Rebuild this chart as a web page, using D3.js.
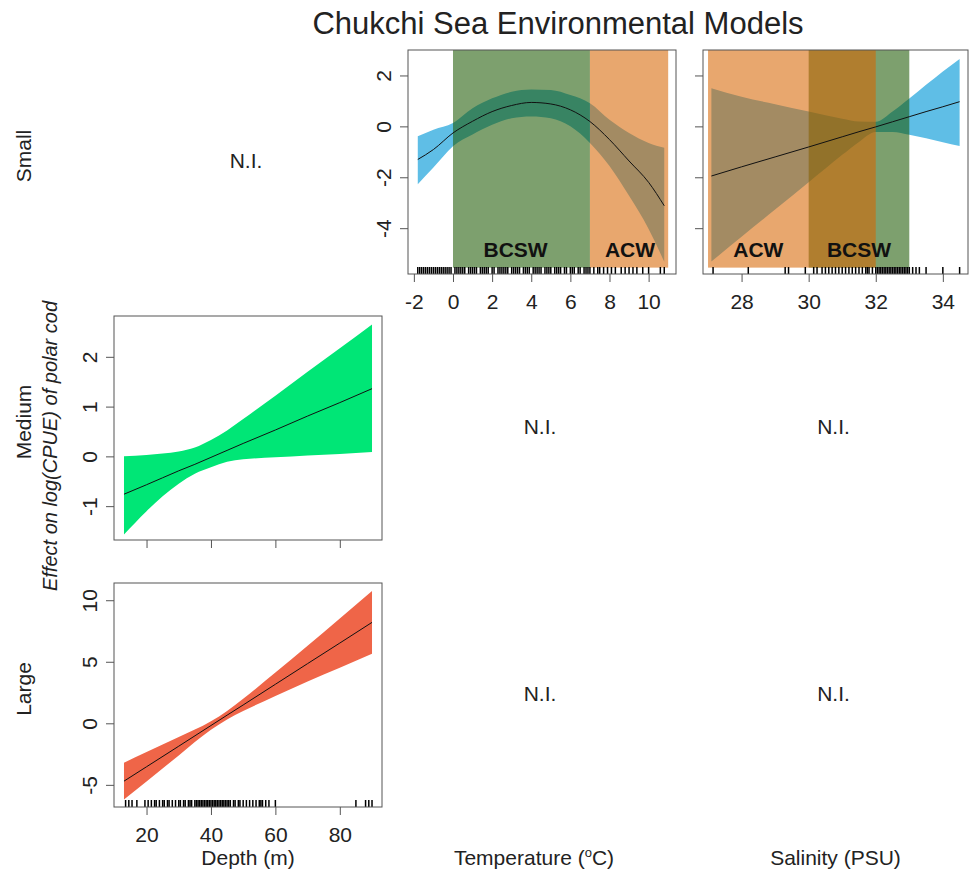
<!DOCTYPE html>
<html>
<head>
<meta charset="utf-8">
<script src="https://cdn.jsdelivr.net/npm/d3@7"></script>
<style>
  body { margin: 0; background: #fff; }
  svg { font-family: 'Liberation Sans', Arial, Helvetica, sans-serif; }
  .tick line { stroke: #555; }
  .tick text { fill: #222; font-size: 21px; }
</style>
</head>
<body>
<div id="chart"></div>
<script>
// ---- data ----

// small polar cod ~ temperature
const tempX   = [-1.8, -1, 0, 1, 2, 3, 4, 5, 6, 7, 8, 9, 10, 10.8];
const tempFit = [-1.30, -0.91, -0.26, 0.20, 0.58, 0.82, 0.94, 0.88, 0.65, 0.19, -0.52, -1.36, -2.20, -3.12];
const tempHi  = [-0.39, -0.13, 0.13, 0.71, 1.10, 1.36, 1.45, 1.43, 1.23, 0.91, 0.26, -0.26, -0.65, -0.84];
const tempLo  = [-2.27, -1.62, -0.78, -0.32, 0.06, 0.32, 0.39, 0.32, 0.00, -0.65, -1.56, -2.73, -4.03, -5.32];
const tempRug = [-1.8, -1.7, -1.6, -1.5, -1.4, -1.3, -1.2, -1.1, -1.0, -0.9, -0.8, -0.7, -0.6, -0.5, -0.4,
  -0.3, -0.2, -0.1, 0.1, 0.2, 0.3, 0.4, 0.5, 0.6, 0.8, 0.9, 1.0, 1.1, 1.2, 1.4, 1.5, 1.6, 1.7, 1.8, 2.0,
  2.1, 2.3, 2.4, 2.5, 2.6, 2.7, 2.8, 3.0, 3.1, 3.2, 3.3, 3.4, 3.6, 3.7, 3.8, 3.9, 4.1, 4.2, 4.3, 4.4, 4.5,
  4.7, 4.8, 4.9, 5.0, 5.2, 5.3, 5.4, 5.5, 5.7, 5.8, 6.0, 6.1, 6.2, 6.4, 6.5, 6.7, 6.8, 6.9, 7.0, 7.2, 7.4,
  7.5, 7.7, 7.9, 8.1, 8.3, 8.6, 8.8, 9.0, 9.2, 9.4, 9.7, 10.0, 10.6, 10.8];

// small polar cod ~ salinity
const salX   = [27.1, 28, 29, 30, 31, 31.5, 32, 32.5, 33, 33.5, 34, 34.5];
const salFit = [-1.95, -1.59, -1.20, -0.81, -0.41, -0.21, -0.02, 0.18, 0.38, 0.58, 0.77, 0.97];
const salHi  = [1.50, 1.16, 0.87, 0.58, 0.30, 0.19, 0.18, 0.58, 1.09, 1.63, 2.16, 2.65];
const salLo  = [-5.31, -4.34, -3.27, -2.20, -1.12, -0.61, -0.22, -0.22, -0.33, -0.47, -0.62, -0.77];
const salRug = [27.15, 28.2, 29.3, 29.4, 29.9, 30.15, 30.25, 30.4, 30.5, 30.6, 30.7, 30.8, 30.9, 31.0, 31.1,
  31.2, 31.3, 31.4, 31.5, 31.6, 31.7, 31.75, 31.8, 31.9, 32.0, 32.05, 32.1, 32.15, 32.2, 32.25, 32.3, 32.35,
  32.4, 32.45, 32.5, 32.55, 32.6, 32.65, 32.7, 32.75, 32.8, 32.85, 32.9, 32.95, 33.0, 33.1, 33.2, 33.3,
  33.5, 34.0, 34.5];

// medium polar cod ~ depth
const medX   = [13, 20, 25, 30, 35, 40, 45, 50, 60, 70, 80, 90];
const medFit = [-0.76, -0.57, -0.43, -0.29, -0.16, -0.02, 0.12, 0.26, 0.53, 0.81, 1.08, 1.36];
const medHi  = [0.00, 0.03, 0.06, 0.10, 0.18, 0.33, 0.52, 0.75, 1.22, 1.70, 2.17, 2.65];
const medLo  = [-1.57, -1.10, -0.80, -0.55, -0.35, -0.22, -0.11, -0.06, -0.02, 0.02, 0.05, 0.09];

// large polar cod ~ depth
const largeX   = [13, 20, 30, 40, 45, 50, 60, 70, 80, 90];
const largeFit = [-4.70, -3.53, -1.86, -0.18, 0.66, 1.49, 3.17, 4.85, 6.52, 8.20];
const largeHi  = [-3.20, -2.33, -1.11, 0.17, 1.01, 1.99, 4.12, 6.30, 8.52, 10.75];
const largeLo  = [-6.20, -4.73, -2.61, -0.53, 0.31, 0.99, 2.22, 3.40, 4.52, 5.65];
const depthRug = [13.5, 14.5, 15.5, 17, 19.5, 20.5, 21.5, 22.5, 23, 24, 25, 25.5, 26.5, 27, 28, 29, 30, 30.5,
  31.5, 32, 33, 33.5, 34, 35, 35.5, 36, 36.5, 37, 37.5, 38, 38.5, 39, 39.5, 40, 40.5, 41, 41.5, 42, 42.5,
  43, 43.5, 44, 44.5, 45, 45.5, 46, 47, 47.5, 48.5, 49, 50, 51, 52, 53, 54, 55, 55.5, 56, 57, 58, 60,
  85, 88, 89, 90];

// water mass zones (label, from, to, label x)
const tempZones = [['BCSW', 0, 7, 3.2], ['ACW', 7, 11, 9.05]];
const salZones  = [['BCSW', 30, 33, 31.5], ['ACW', 27, 32, 28.5]];
const zoneBottom = -5.55;

// tick values
const tempTicks  = [-2, 0, 2, 4, 6, 8, 10];
const salTicks   = [28, 30, 32, 34];
const depthTicks = [20, 40, 60, 80];
const smallYTicks  = [-4, -2, 0, 2];
const mediumYTicks = [-1, 0, 1, 2];
const largeYTicks  = [-5, 0, 5, 10];

const rowNames = ['Small', 'Medium', 'Large'];
const colNames = ['Depth (m)', 'Temperature', 'Salinity (PSU)'];

// ---- layout ----
const width = 971, height = 873;
const colLeft = [114, 408, 703];
const colWidth = [268, 268, 265];
const rowTop = [50, 316, 583];
const rowHeight = 224;

const zoneColor = {BCSW: '#1A5800', ACW: '#D76400'};
const fmt = d => String(d);   // R style: plain hyphen, no decimals

const svg = d3.select('#chart').append('svg')
  .attr('width', width)
  .attr('height', height);

function panel(o) {
  const x0 = colLeft[o.col], y0 = rowTop[o.row], w = colWidth[o.col], h = rowHeight;
  const x = d3.scaleLinear().domain(o.xDomain).range([0, w]);
  const y = d3.scaleLinear().domain(o.yDomain).range([h, 0]);

  const g = svg.append('g').attr('transform', `translate(${x0},${y0})`);
  const clipId = `clip-${o.row}-${o.col}`;
  g.append('clipPath').attr('id', clipId)
    .append('rect').attr('width', w).attr('height', h);

  const plot = g.append('g').attr('clip-path', `url(#${clipId})`);
  const rows = o.xs.map((d, i) => ({x: d, fit: o.fit[i], lo: o.lo[i], hi: o.hi[i]}));

  // confidence band
  plot.append('path')
    .datum(rows)
    .attr('fill', o.color)
    .attr('d', d3.area().curve(d3.curveMonotoneX)
      .x(d => x(d.x)).y0(d => y(d.lo)).y1(d => y(d.hi)));

  // water mass rectangles drawn on top of the band
  (o.zones || []).forEach(z => {
    plot.append('rect')
      .attr('x', x(z[1]))
      .attr('width', x(z[2]) - x(z[1]))
      .attr('y', y(o.yDomain[1]))
      .attr('height', y(zoneBottom) - y(o.yDomain[1]))
      .attr('fill', zoneColor[z[0]])
      .attr('fill-opacity', 0.57);
  });

  // fitted smooth
  plot.append('path')
    .datum(rows)
    .attr('fill', 'none')
    .attr('stroke', '#111')
    .attr('stroke-width', 1)
    .attr('d', d3.line().curve(d3.curveMonotoneX).x(d => x(d.x)).y(d => y(d.fit)));

  (o.zones || []).forEach(z => {
    g.append('text')
      .attr('x', x(z[3]))
      .attr('y', h - 17)
      .attr('text-anchor', 'middle')
      .attr('font-weight', 'bold')
      .attr('font-size', 21)
      .attr('fill', '#111')
      .text(z[0]);
  });

  // rug
  if (o.rug) {
    g.append('g').selectAll('line')
      .data(o.rug)
      .join('line')
      .attr('x1', d => x(d)).attr('x2', d => x(d))
      .attr('y1', h).attr('y2', h - 7)
      .attr('stroke', '#000')
      .attr('stroke-width', 1.5);
  }

  // axes
  const xAxis = d3.axisBottom(x).tickValues(o.xTicks).tickSize(8).tickPadding(8)
    .tickFormat(o.xLabels ? fmt : '');
  const gx = g.append('g').attr('transform', `translate(0,${h})`).call(xAxis);
  gx.select('.domain').remove();
  gx.selectAll('.tick text').attr('dy', '0.9em');

  const yAxis = d3.axisLeft(y).tickValues(o.yTicks).tickSize(8)
    .tickFormat(o.yLabels ? fmt : '');
  const gy = g.append('g').call(yAxis);
  gy.select('.domain').remove();
  gy.selectAll('.tick text')
    .attr('transform', 'rotate(-90)')
    .attr('x', 0).attr('y', -17).attr('dy', 0)
    .attr('text-anchor', 'middle');

  // box
  g.append('rect')
    .attr('width', w).attr('height', h)
    .attr('fill', 'none')
    .attr('stroke', '#555')
    .attr('stroke-width', 1);
}

panel({row: 0, col: 1, xDomain: [-2.3, 11.4], yDomain: [-5.8, 3.0],
  xs: tempX, fit: tempFit, lo: tempLo, hi: tempHi, color: '#5FBEE6',
  zones: tempZones, rug: tempRug, xTicks: tempTicks, yTicks: smallYTicks, xLabels: true, yLabels: true});

panel({row: 0, col: 2, xDomain: [26.85, 34.75], yDomain: [-5.8, 3.0],
  xs: salX, fit: salFit, lo: salLo, hi: salHi, color: '#5FBEE6',
  zones: salZones, rug: salRug, xTicks: salTicks, yTicks: smallYTicks, xLabels: true, yLabels: false});

panel({row: 1, col: 0, xDomain: [9.9, 93.1], yDomain: [-1.68, 2.82],
  xs: medX, fit: medFit, lo: medLo, hi: medHi, color: '#00E676',
  xTicks: depthTicks, yTicks: mediumYTicks, xLabels: false, yLabels: true});

panel({row: 2, col: 0, xDomain: [9.9, 93.1], yDomain: [-6.8, 11.4],
  xs: largeX, fit: largeFit, lo: largeLo, hi: largeHi, color: '#EF6548',
  rug: depthRug, xTicks: depthTicks, yTicks: largeYTicks, xLabels: true, yLabels: true});

// N.I. (not included) cells
const empty = [[0, 0], [1, 1], [1, 2], [2, 1], [2, 2]];
svg.append('g').selectAll('text')
  .data(empty)
  .join('text')
  .attr('x', d => colLeft[d[1]] + colWidth[d[1]] / 2 - 2)
  .attr('y', d => rowTop[d[0]] + rowHeight / 2 + 6)
  .attr('text-anchor', 'middle')
  .attr('font-size', 21)
  .attr('fill', '#222')
  .text('N.I.');

// row labels
svg.append('g').selectAll('text')
  .data(rowNames)
  .join('text')
  .attr('transform', (d, i) => `translate(31,${rowTop[i] + rowHeight / 2 - 6}) rotate(-90)`)
  .attr('text-anchor', 'middle')
  .attr('font-size', 21)
  .attr('fill', '#222')
  .text(d => d);

// y axis title
svg.append('text')
  .attr('transform', 'translate(57,446) rotate(-90)')
  .attr('text-anchor', 'middle')
  .attr('font-size', 20)
  .attr('font-style', 'italic')
  .attr('fill', '#222')
  .text('Effect on log(CPUE) of polar cod');

// column labels
const colLab = svg.append('g').selectAll('text')
  .data(colNames)
  .join('text')
  .attr('x', (d, i) => colLeft[i] + colWidth[i] / 2 - (i === 1 ? 8 : 0))
  .attr('y', 865)
  .attr('text-anchor', 'middle')
  .attr('font-size', 21)
  .attr('fill', '#222')
  .text(d => d);
colLab.filter((d, i) => i === 1).each(function () {
  const t = d3.select(this);
  t.append('tspan').text(' (');
  t.append('tspan').attr('font-size', 13).attr('dy', -8).text('o');
  t.append('tspan').attr('dy', 8).text('C)');
});

// title
svg.append('text')
  .attr('x', 558)
  .attr('y', 34)
  .attr('text-anchor', 'middle')
  .attr('font-size', 31)
  .attr('fill', '#222')
  .text('Chukchi Sea Environmental Models');
</script>
</body>
</html>
